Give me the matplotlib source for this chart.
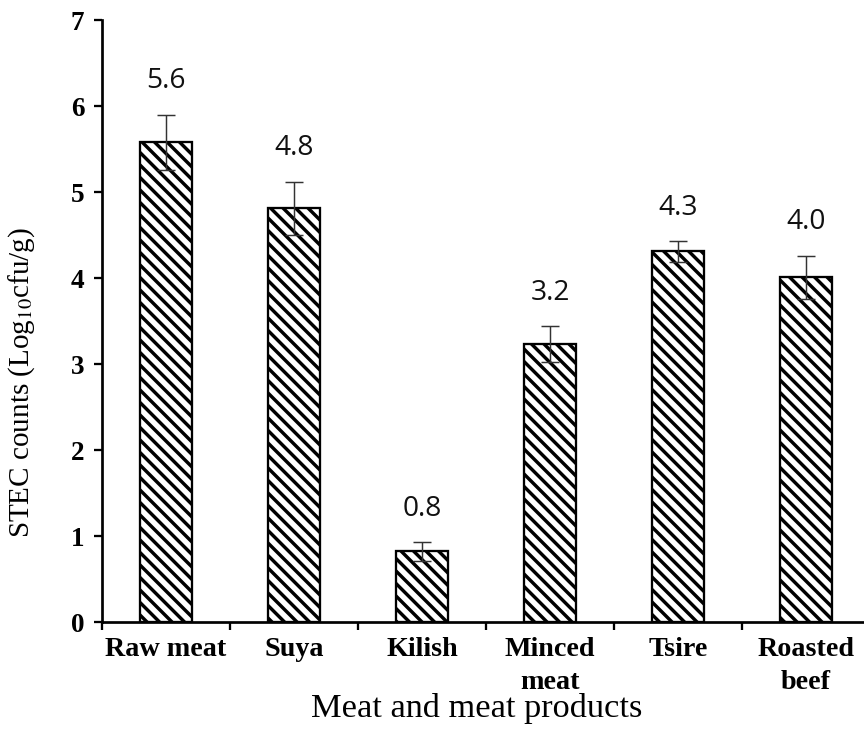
"""STEC counts in meat and meat products (bar chart with SD error bars)."""
import matplotlib

matplotlib.use("Agg")
import matplotlib.pyplot as plt

# Data.
products = ["Raw meat", "Suya", "Kilish", "Minced\nmeat", "Tsire", "Roasted\nbeef"]
counts = [5.58, 4.81, 0.82, 3.23, 4.31, 4.01]
errors = [0.32, 0.31, 0.11, 0.21, 0.12, 0.25]
value_labels = ["5.6", "4.8", "0.8", "3.2", "4.3", "4.0"]
yticks = [0, 1, 2, 3, 4, 5, 6, 7]

DPI = 75  # hatch spacing scales with dpi; 75 gives the reference's ~12 px stripes
plt.rcParams["hatch.linewidth"] = 3.3
plt.rcParams["mathtext.fontset"] = "stix"

fig = plt.figure(figsize=(864 / DPI, 749 / DPI), dpi=DPI)
ax = fig.add_axes([102 / 864, 127 / 749, 768 / 864, 602 / 749])

x = list(range(len(products)))
ax.bar(x, counts, width=0.4, color="white", edgecolor="black",
       linewidth=2.2, hatch="\\\\", zorder=2)
ax.errorbar(x, counts, yerr=errors, fmt="none", ecolor="#333333",
            elinewidth=1.4, capsize=9, capthick=1.4, zorder=3)

for xi, c, e, lab in zip(x, counts, errors, value_labels):
    ax.annotate(lab, (xi, c + e), xytext=(0, 32), textcoords="offset points",
                ha="center", va="center", fontsize=27, family="Open Sans",
                color="#111111")

ax.set_xlim(-0.5, 5.5)
ax.set_ylim(0, 7)
ax.set_yticks(yticks)
ax.set_yticklabels([str(t) for t in yticks], family="Liberation Serif",
                   fontweight="bold", fontsize=26)

# Excel-style: labels at category centres, tick marks on the boundaries.
ax.set_xticks(x)
ax.set_xticklabels(products, family="Liberation Serif", fontweight="bold",
                   fontsize=27, linespacing=1.45, va="top")
ax.set_xticks([i - 0.5 for i in range(len(products) + 1)], minor=True)
ax.tick_params(axis="x", which="major", length=0, pad=14)
ax.tick_params(axis="x", which="minor", length=8, width=2.2, direction="out")
ax.tick_params(axis="y", length=8, width=2.2, direction="out", pad=9)

for side in ("top", "right"):
    ax.spines[side].set_visible(False)
for side in ("left", "bottom"):
    ax.spines[side].set_linewidth(2.6)

ax.set_xlabel("Meat and meat products", family="Liberation Serif",
              fontsize=33)
ax.xaxis.set_label_coords(0.488, -0.143)
ax.xaxis.label.set_va("center")
ax.set_ylabel("STEC counts (Log$_{10}$cfu/g)", family="Liberation Serif",
              fontsize=28)
ax.yaxis.set_label_coords(-0.084, 0.397)

fig.savefig("out.png", dpi=DPI)
